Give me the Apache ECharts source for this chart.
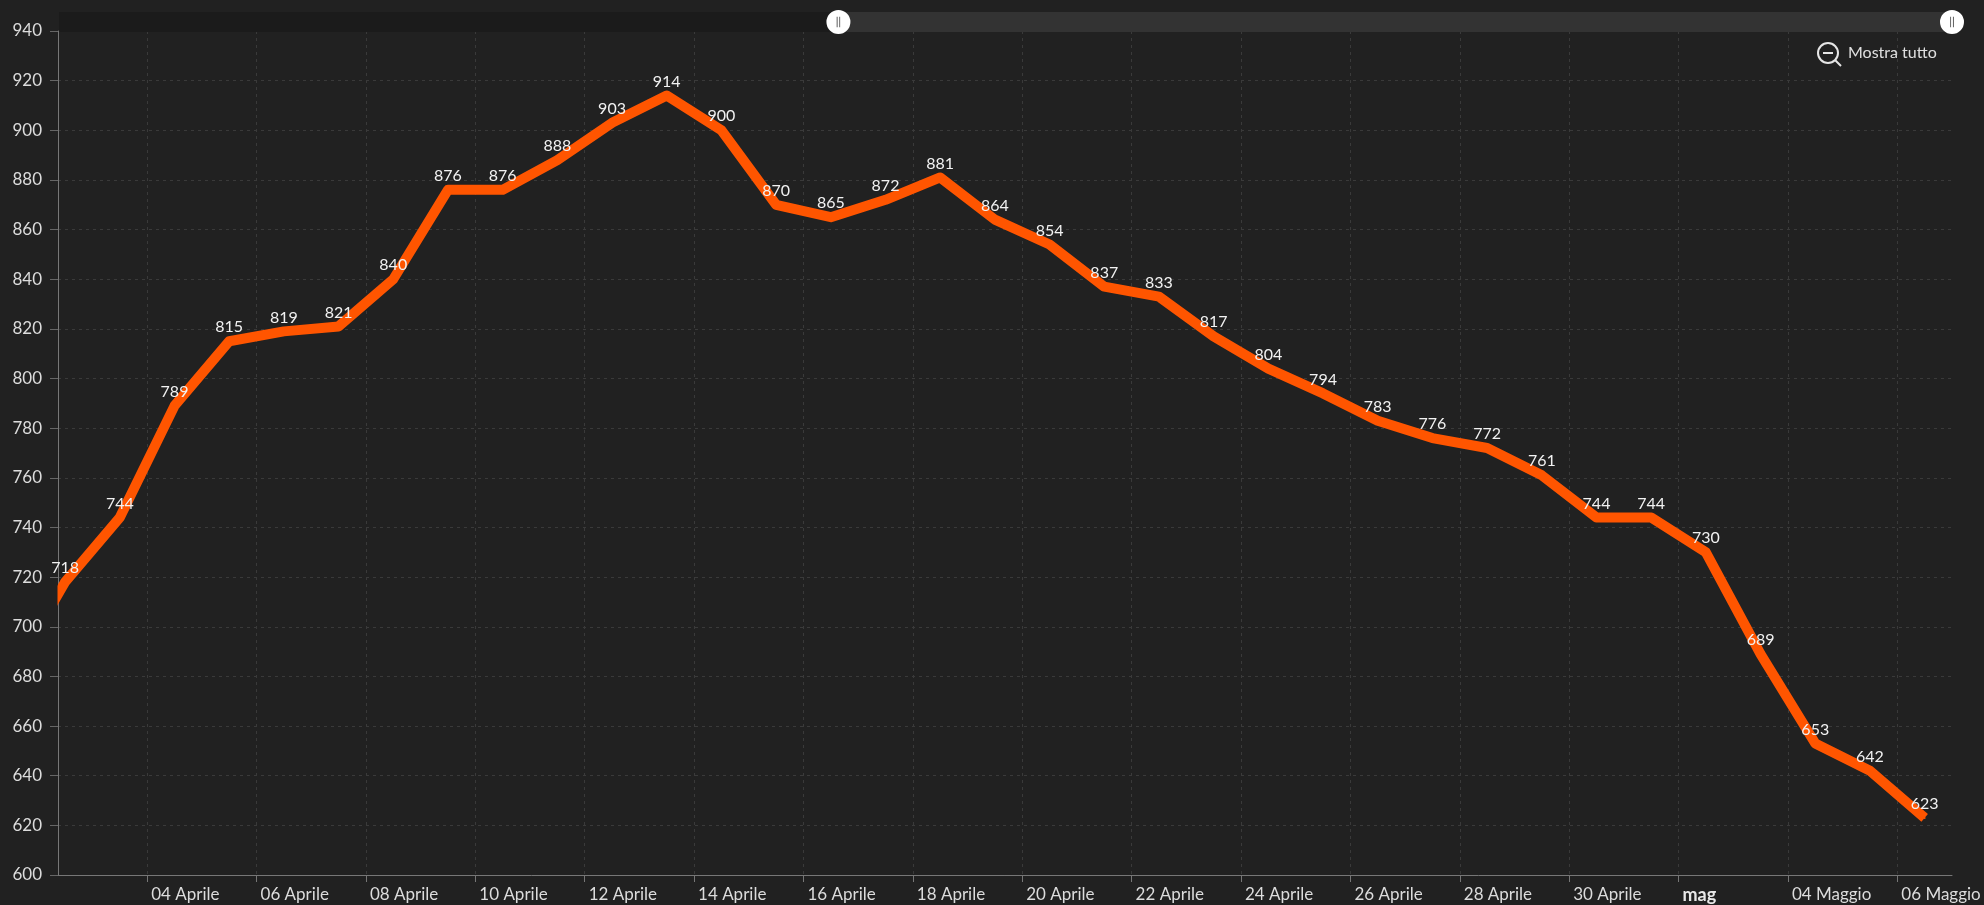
<!doctype html>
<html>
<head>
	<meta charset="utf-8">
	<title>Mostra tutto</title>
	<script src="https://cdn.jsdelivr.net/npm/echarts@6/dist/echarts.min.js"></script>
	<style>
		html, body {margin:0;padding:0;background:#212121;}
		#main {width:1984px;height:905px;}
	</style>
</head>
<body>
	<div id="main"></div>
<script>
	"use strict";
	// first value (01 Apr) is only seen as the clipped line at the axis, estimated
	var dates = ["2020-04-01","2020-04-02","2020-04-03","2020-04-04","2020-04-05","2020-04-06","2020-04-07","2020-04-08","2020-04-09","2020-04-10","2020-04-11","2020-04-12","2020-04-13","2020-04-14","2020-04-15","2020-04-16","2020-04-17","2020-04-18","2020-04-19","2020-04-20","2020-04-21","2020-04-22","2020-04-23","2020-04-24","2020-04-25","2020-04-26","2020-04-27","2020-04-28","2020-04-29","2020-04-30","2020-05-01","2020-05-02","2020-05-03","2020-05-04","2020-05-05","2020-05-06"];
	var values = [680,718,744,789,815,819,821,840,876,876,888,903,914,900,870,865,872,881,864,854,837,833,817,804,794,783,776,772,761,744,744,730,689,653,642,623];
	var tickDates = ["2020-04-04","2020-04-06","2020-04-08","2020-04-10","2020-04-12","2020-04-14","2020-04-16","2020-04-18","2020-04-20","2020-04-22","2020-04-24","2020-04-26","2020-04-28","2020-04-30","2020-05-02","2020-05-04","2020-05-06"];
	var tickLabels = ["04 Aprile","06 Aprile","08 Aprile","10 Aprile","12 Aprile","14 Aprile","16 Aprile","18 Aprile","20 Aprile","22 Aprile","24 Aprile","26 Aprile","28 Aprile","30 Aprile","mag","04 Maggio","06 Maggio"];
	var yMin = 600, yMax = 940, yStep = 20;

	function ts(s){ return new Date(s + "T00:00:00Z").getTime(); }
	var DAY = 86400000;
	var tickTimes = tickDates.map(ts);
	var labelByTime = {};
	tickTimes.forEach(function(t, i){ labelByTime[t] = tickLabels[i]; });
	// points sit half a day after their date tick
	var seriesData = dates.map(function(d, i){ return [ts(d) + DAY / 2, values[i]]; });

	var windowStart = ts("2020-04-02") + DAY * 0.37;
	var windowEnd = ts("2020-05-07");
	// the slider covers more time than is shown: the window starts at 41%
	var fullStart = windowEnd - (windowEnd - windowStart) / 0.589;

	var myChart = echarts.init(document.getElementById("main"), null, {renderer: "canvas"});
	var font = "Lato";
	myChart.setOption({
		backgroundColor: "#212121",
		animation: false,
		grid: {left: 58, right: 32, top: 31, bottom: 30},
		xAxis: {
			type: "value",
			min: fullStart,
			max: windowEnd,
			axisLine: {onZero: false, lineStyle: {color: "#777", width: 1}},
			axisTick: {customValues: tickTimes, length: 7, lineStyle: {color: "#777"}},
			axisLabel: {
				customValues: tickTimes,
				hideOverlap: false,
				align: "left",
				margin: 11,
				padding: [0, 0, 0, 4],
				color: "#dcdcdc",
				fontFamily: font,
				fontSize: 17,
				formatter: function(v){
					var s = labelByTime[v];
					return s === "mag" ? "{b|mag}" : s;
				},
				rich: {b: {fontWeight: "bold", color: "#e8e8e8", fontFamily: font, fontSize: 18}}
			},
			splitLine: {show: true, lineStyle: {color: "#3a3a3a", type: [3, 4]}}
		},
		yAxis: {
			type: "value",
			min: yMin,
			max: yMax,
			interval: yStep,
			axisLine: {show: true, lineStyle: {color: "#777", width: 1}},
			axisTick: {show: true, length: 8, lineStyle: {color: "#666"}},
			axisLabel: {color: "#dcdcdc", fontFamily: font, fontSize: 17, margin: 16},
			splitLine: {lineStyle: {color: "#3a3a3a", type: [3, 4]}}
		},
		dataZoom: [{
			type: "slider",
			xAxisIndex: 0,
			filterMode: "none",
			startValue: windowStart,
			endValue: windowEnd,
			left: 58,
			right: 32,
			top: 12,
			height: 20,
			showDetail: false,
			showDataShadow: false,
			brushSelect: false,
			borderColor: "transparent",
			backgroundColor: "#1b1b1b",
			fillerColor: "#333333",
			handleIcon: "path://M50 0A50 50 0 1 1 50 100A50 50 0 1 1 50 0ZM43 28V72H46V28ZM54 28V72H57V28Z",
			handleSize: 24,
			handleStyle: {color: "#ffffff", borderColor: "#ffffff", borderWidth: 0},
			moveHandleSize: 0
		}],
		graphic: [
			// the line's clip reaches half a stroke past the axis, cover that bit
			{type: "rect", z: 10, shape: {x: 48, y: 584, width: 9.5, height: 32}, style: {fill: "#212121"}},
			{type: "circle", shape: {cx: 1828, cy: 53, r: 10}, style: {fill: "none", stroke: "#e6e6e6", lineWidth: 2}},
			{type: "line", shape: {x1: 1835, y1: 60, x2: 1841, y2: 66}, style: {stroke: "#e6e6e6", lineWidth: 2}},
			{type: "line", shape: {x1: 1823, y1: 53, x2: 1833, y2: 53}, style: {stroke: "#e6e6e6", lineWidth: 2}},
			{type: "text", x: 1848, y: 53, style: {text: "Mostra tutto", fill: "#e0e0e0", font: "16px Lato", verticalAlign: "middle"}}
		],
		series: [{
			type: "line",
			data: seriesData,
			clip: true,
			showSymbol: true,
			symbol: "circle",
			symbolSize: 2,
			itemStyle: {color: "#ff5500"},
			lineStyle: {color: "#ff5500", width: 10, join: "round"},
			label: {
				show: true,
				position: "top",
				distance: 5,
				color: "#f2f2f2",
				fontFamily: font,
				fontSize: 16,
				formatter: function(p){ return p.value[1]; }
			}
		}]
	});
</script>
</body>
</html>
